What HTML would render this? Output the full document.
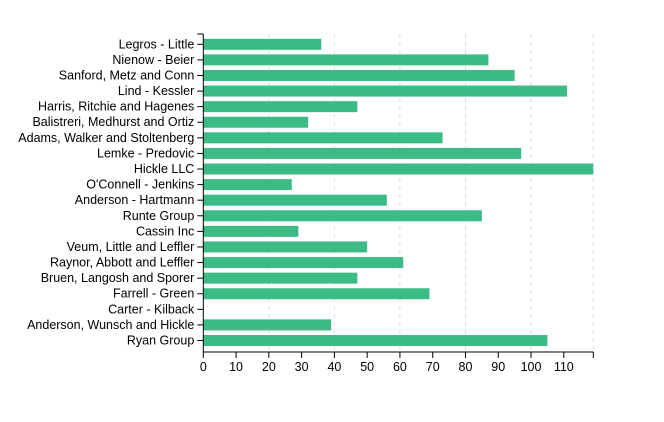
<!DOCTYPE html>
<html><head><meta charset="utf-8"><style>
body{margin:0;background:#fff;}
svg text{font-family:"Liberation Sans",Arial,sans-serif;font-size:12.5px;fill:#000;}
</style></head><body>
<svg id="chart" width="664" height="417" xmlns="http://www.w3.org/2000/svg"></svg>
<script>
const categories=["Legros - Little","Nienow - Beier","Sanford, Metz and Conn","Lind - Kessler","Harris, Ritchie and Hagenes","Balistreri, Medhurst and Ortiz","Adams, Walker and Stoltenberg","Lemke - Predovic","Hickle LLC","O'Connell - Jenkins","Anderson - Hartmann","Runte Group","Cassin Inc","Veum, Little and Leffler","Raynor, Abbott and Leffler","Bruen, Langosh and Sporer","Farrell - Green","Carter - Kilback","Anderson, Wunsch and Hickle","Ryan Group"];
const values=[36,87,95,111,47,32,73,97,119,27,56,85,29,50,61,47,69,0,39,105];
const xTicks=[0,10,20,30,40,50,60,70,80,90,100,110];
const gridTicks=[20,40,60,80,100];
const NS="http://www.w3.org/2000/svg";
const svg=document.getElementById('chart');
const x0=203.3,x1=593.3,yTop=36.5,yBot=348.3,axisY=352;
const xMax=Math.max(...values);
const xs=v=>x0+v/xMax*(x1-x0);
const step=(yBot-yTop)/categories.length;
const bh=11;
function el(t,a){const e=document.createElementNS(NS,t);for(const k in a)e.setAttribute(k,a[k]);svg.appendChild(e);return e;}
gridTicks.concat([xMax]).forEach(t=>{
  const g=el('line',{x1:xs(t),x2:xs(t),y1:34,y2:axisY,stroke:'#ddd','stroke-dasharray':'4,4'});
  
  
});
categories.forEach((c,i)=>{
  const cy=yTop+step*(i+0.5);
  const r=el('rect',{x:x0,y:cy-bh/2,width:xs(values[i])-x0,height:bh,fill:'#3dbb87'});
  
  
  el('line',{x1:x0-6,x2:x0,y1:cy,y2:cy,stroke:'#000'});
  const t=el('text',{x:x0-9,y:cy+4,'text-anchor':'end'});
  t.textContent=c;
  
  
});
const ya=el('line',{x1:x0,x2:x0,y1:34,y2:axisY,stroke:'#000'});


el('line',{x1:x0-6,x2:x0,y1:34,y2:34,stroke:'#000'});
const xa=el('line',{x1:x0,x2:x1,y1:axisY,y2:axisY,stroke:'#000'});


el('line',{x1:x1,x2:x1,y1:axisY,y2:axisY+6,stroke:'#000'});
xTicks.forEach(t=>{
  el('line',{x1:xs(t),x2:xs(t),y1:axisY,y2:axisY+6,stroke:'#000'});
  const tx=el('text',{x:xs(t),y:axisY+19,'text-anchor':'middle'});
  tx.textContent=t;
  
  
});
</script>
</body></html>
